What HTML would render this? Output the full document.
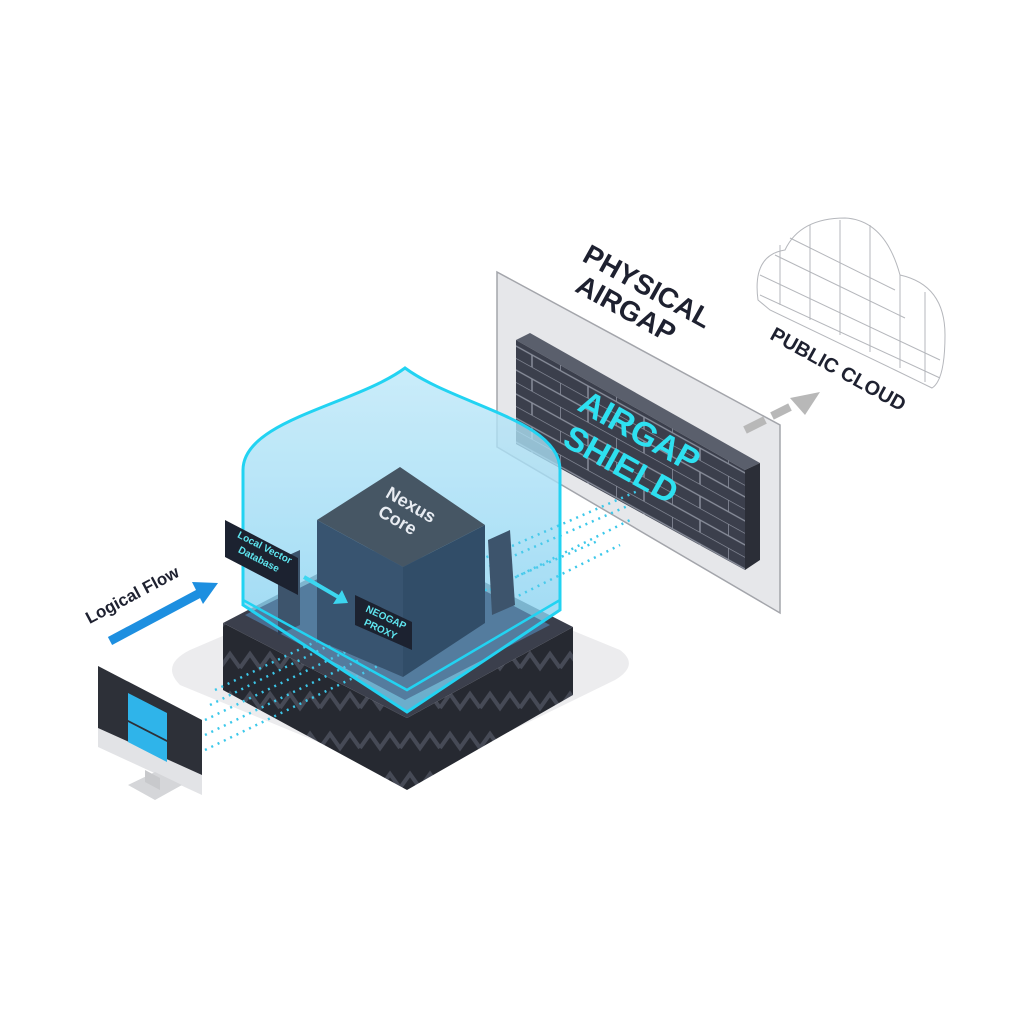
<!DOCTYPE html>
<html><head><meta charset="utf-8"><style>
html,body{margin:0;padding:0;background:#fff;}
svg{display:block;}
text{font-family:"Liberation Sans",sans-serif;font-weight:bold;}
</style></head><body>
<svg width="1024" height="1024" viewBox="0 0 1024 1024" xmlns="http://www.w3.org/2000/svg">
<defs>
<pattern id="brick" width="56" height="24" patternUnits="userSpaceOnUse" patternTransform="skewY(29)">
<rect width="56" height="24" fill="#3b3f4c"/>
<path d="M0 0H56M0 12H56M0 0V12M28 12V24" stroke="#8a8f9c" stroke-width="1.5"/>
</pattern>
<pattern id="zig" width="40" height="40" patternUnits="userSpaceOnUse">
<rect width="40" height="40" fill="#262931"/>
<path d="M0 28L10 14L20 28L30 14L40 28" stroke="#464a56" stroke-width="4" fill="none"/>
</pattern>
<linearGradient id="dome" x1="0" y1="0" x2="0" y2="1">
<stop offset="0" stop-color="#c8ecfb"/><stop offset="1" stop-color="#72c9ee"/>
</linearGradient>
</defs>

<path d="M190 650 L400 560 L620 650 Q640 665 615 680 L410 780 L180 685 Q160 665 190 650Z" fill="#ececee"/>

<polygon points="497,272 780,425 780,613 497,447" fill="#e4e5e8" stroke="#9a9ca2" stroke-width="1.5" opacity="0.9"/>
<polygon points="516,340 530,333 760,463 745,470" fill="#5a5f6c"/>
<polygon points="516,340 745,470 745,570 516,444" fill="url(#brick)"/>
<polygon points="745,470 760,463 760,560 745,570" fill="#2b2e37"/>
<g transform="translate(628,452) rotate(29)">
<text x="0" y="-12" font-size="34" fill="#2ee0f0" text-anchor="middle">AIRGAP</text>
<text x="0" y="26" font-size="34" fill="#2ee0f0" text-anchor="middle">SHIELD</text>
</g>
<g transform="translate(640,300) rotate(29)">
<text x="0" y="-6" font-size="28" fill="#1e2130" text-anchor="middle">PHYSICAL</text>
<text x="-8" y="24" font-size="28" fill="#1e2130" text-anchor="middle">AIRGAP</text>
</g>

<g fill="#fff" stroke="#b5b7bc" stroke-width="1">
<path d="M758 300 Q752 255 785 250 Q800 218 845 218 Q885 220 900 275 Q945 285 945 335 Q945 380 932 388 L895 370 L770 310Z"/>
<path d="M780 245 V305 M810 225 V320 M840 220 V335 M870 225 V352 M900 275 V368 M925 292 V382 M760 275 L940 360 M760 295 L940 378 M775 255 L905 318 M790 238 L895 290"/>
</g>
<g transform="translate(835,375) rotate(29)">
<text x="0" y="0" font-size="20" fill="#1e2130" text-anchor="middle">PUBLIC CLOUD</text>
</g>
<path d="M745 430 L765 420 M772 416 L790 407" stroke="#b8b8b8" stroke-width="8"/>
<polygon points="790,398 820,392 805,415" fill="#b8b8b8"/>

<polygon points="223,623 407,718 407,790 223,690" fill="url(#zig)"/>
<polygon points="407,718 573,627 573,695 407,790" fill="url(#zig)"/>
<polygon points="223,623 392,535 573,627 407,718" fill="#3b3f4c"/>

<path d="M243 605 L243 470 C243 420 355 405 405 368 C455 405 560 420 560 470 L560 610 L407 712Z" fill="url(#dome)" opacity="0.75"/>
<polygon points="245,615 392,542 550,625 405,700" fill="#4a6d90"/>

<g stroke="#3cc8ea" stroke-width="2.5" stroke-dasharray="2 5">
<path d="M480 560 L640 490 M470 575 L630 505 M490 590 L630 520 M500 605 L620 545 M440 610 L600 540"/>
<path d="M205 735 L380 650 M205 720 L370 640 M210 705 L360 630 M205 750 L390 660 M215 690 L340 630"/>
</g>

<polygon points="278,560 300,550 300,625 278,635" fill="#2f3e55"/>
<polygon points="488,540 510,530 515,605 492,615" fill="#2f3e55"/>

<polygon points="317,520 400,467 485,525 403,567" fill="#3a404c"/>
<polygon points="317,520 403,567 403,677 317,640" fill="#2a3e5a"/>
<polygon points="403,567 485,525 485,623 403,677" fill="#223550"/>

<path d="M243 605 L243 470 C243 420 355 405 405 368 C455 405 560 420 560 470 L560 610 L407 712Z" fill="#8fd8f4" fill-opacity="0.15" stroke="#22d3f2" stroke-width="3"/>
<path d="M243 600 L407 690 L560 600" fill="none" stroke="#22d3f2" stroke-width="2.5"/>

<g transform="translate(408,510) rotate(30)">
<text x="0" y="0" font-size="18" fill="#e8ecf2" text-anchor="middle">Nexus</text>
<text x="-4" y="20" font-size="18" fill="#e8ecf2" text-anchor="middle">Core</text>
</g>

<polygon points="225,520 298,558 298,595 225,557" fill="#1c2230"/>
<g transform="translate(261,555) rotate(27)">
<text x="0" y="-5" font-size="10" fill="#5fe6f0" font-weight="normal" text-anchor="middle">Local Vector</text>
<text x="0" y="8" font-size="10" fill="#5fe6f0" font-weight="normal" text-anchor="middle">Database</text>
</g>
<path d="M304 577 L340 598" stroke="#3cd6f0" stroke-width="4"/>
<polygon points="348,603 333,604 342,590" fill="#3cd6f0"/>
<polygon points="355,595 412,622 412,650 355,625" fill="#1c2230"/>
<g transform="translate(383,624) rotate(25)">
<text x="0" y="-4" font-size="10" fill="#5fe6f0" font-weight="normal" text-anchor="middle">NEOGAP</text>
<text x="0" y="9" font-size="10" fill="#5fe6f0" font-weight="normal" text-anchor="middle">PROXY</text>
</g>

<path d="M110 641 L200 593" stroke="#1d8fe0" stroke-width="9"/>
<polygon points="218,583 192,582 203,604" fill="#1d8fe0"/>
<g transform="translate(135,600) rotate(-28)">
<text x="0" y="0" font-size="17" fill="#1e2130" text-anchor="middle">Logical Flow</text>
</g>

<polygon points="98,666 202,720 202,795 98,747" fill="#e2e3e6"/>
<polygon points="98,666 202,720 202,775 98,728" fill="#2d3038"/>
<polygon points="128,693 167,713 167,740 128,720" fill="#2fb4ea"/>
<polygon points="128,722 167,742 167,762 128,742" fill="#2fb4ea"/>
<polygon points="128,785 155,772 182,785 155,800" fill="#d5d6d9"/>
<polygon points="145,770 160,778 160,790 145,782" fill="#c8c9cc"/>
</svg>
</body></html>
